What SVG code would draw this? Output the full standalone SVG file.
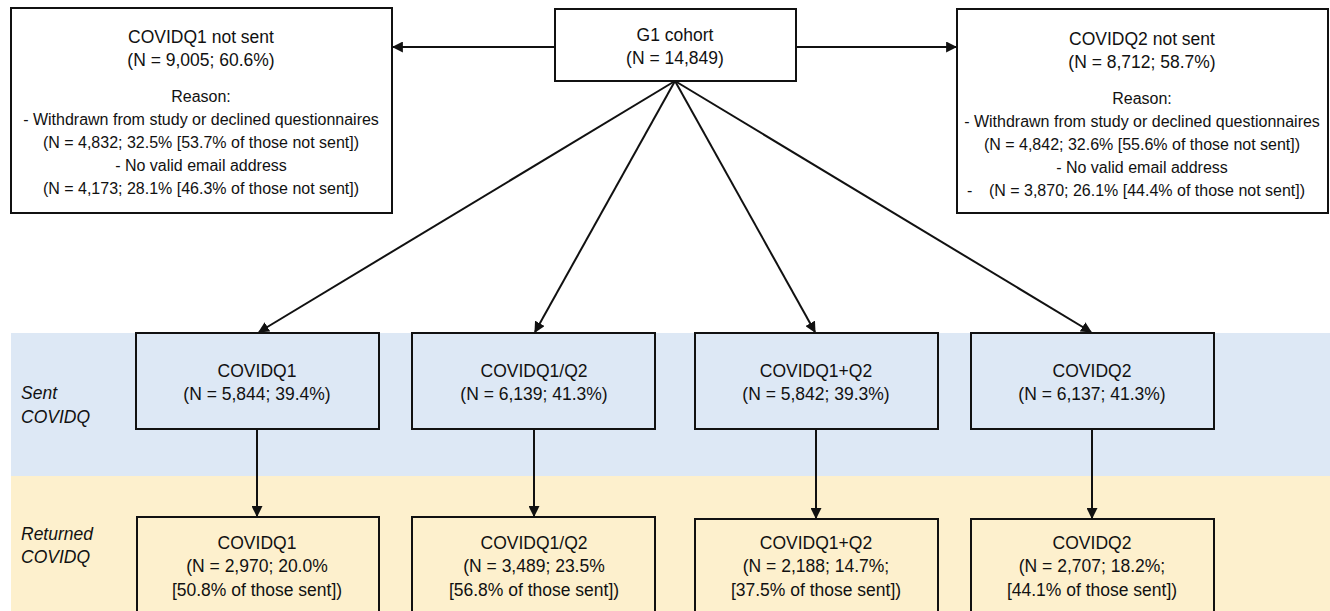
<svg xmlns="http://www.w3.org/2000/svg" width="1330" height="611" viewBox="0 0 1330 611">
<style>
text{font-family:"Liberation Sans",Arial,sans-serif;font-size:17.5px;fill:#111;text-anchor:middle}
.sm{font-size:16px}
.lbl{font-style:italic;text-anchor:start}
.box{stroke:#111;stroke-width:2;fill:#fff}
.sent{fill:#dde8f5}
.ret{fill:#fdf0cd}
.conn{stroke:#111;stroke-width:2;fill:none;marker-end:url(#ah)}
</style>
<defs>
<marker id="ah" viewBox="0 0 10 10" refX="9" refY="5" markerWidth="5.5" markerHeight="5.5" orient="auto" markerUnits="strokeWidth">
<path d="M0,0 L10,5 L0,10 z" fill="#111"/>
</marker>
</defs>
<rect x="11" y="333" width="1319" height="143" fill="#dde8f5"/>
<rect x="11" y="476" width="1319" height="135" fill="#fdf0cd"/>
<text class="lbl" x="21" y="399">Sent</text>
<text class="lbl" x="21" y="423">COVIDQ</text>
<text class="lbl" x="21" y="540">Returned</text>
<text class="lbl" x="21" y="563">COVIDQ</text>
<g id="connectors">
<line class="conn" x1="555" y1="47" x2="393" y2="47"/>
<line class="conn" x1="796" y1="47" x2="956" y2="47"/>
<line class="conn" x1="675" y1="81" x2="259" y2="332"/>
<line class="conn" x1="675" y1="81" x2="535" y2="332"/>
<line class="conn" x1="675" y1="81" x2="815" y2="332"/>
<line class="conn" x1="675" y1="81" x2="1091" y2="332"/>
<line class="conn" x1="257" y1="429" x2="257" y2="516"/>
<line class="conn" x1="534" y1="429" x2="534" y2="516"/>
<line class="conn" x1="816" y1="429" x2="816" y2="518"/>
<line class="conn" x1="1092" y1="429" x2="1092" y2="518"/>
</g>
<g id="notsent1">
<rect class="box" x="11" y="8" width="381" height="205"/>
<text x="201" y="43">COVIDQ1 not sent</text>
<text x="201" y="66">(N = 9,005; 60.6%)</text>
<text class="sm" x="201" y="102">Reason:</text>
<text class="sm" x="201" y="125">- Withdrawn from study or declined questionnaires</text>
<text class="sm" x="201" y="148">(N = 4,832; 32.5% [53.7% of those not sent])</text>
<text class="sm" x="201" y="171">- No valid email address</text>
<text class="sm" x="201" y="194">(N = 4,173; 28.1% [46.3% of those not sent])</text>
</g>
<g id="cohort">
<rect class="box" x="555" y="9" width="241" height="72"/>
<text x="675" y="41">G1 cohort</text>
<text x="675" y="64">(N = 14,849)</text>
</g>
<g id="notsent2">
<rect class="box" x="957" y="9" width="371" height="204"/>
<text x="1142" y="45">COVIDQ2 not sent</text>
<text x="1142" y="68">(N = 8,712; 58.7%)</text>
<text class="sm" x="1142" y="104">Reason:</text>
<text class="sm" x="1142" y="127">- Withdrawn from study or declined questionnaires</text>
<text class="sm" x="1142" y="150">(N = 4,842; 32.6% [55.6% of those not sent])</text>
<text class="sm" x="1142" y="173">- No valid email address</text>
<text class="sm" x="1147" y="196"><tspan x="967" style="text-anchor:start">-</tspan><tspan x="1147">(N = 3,870; 26.1% [44.4% of those not sent])</tspan></text>
</g>
<g id="sent1">
<rect class="box sent" x="136" y="333" width="243" height="96"/>
<text x="257" y="377">COVIDQ1</text>
<text x="257" y="400">(N = 5,844; 39.4%)</text>
</g>
<g id="sent2">
<rect class="box sent" x="412" y="333" width="243" height="96"/>
<text x="534" y="377">COVIDQ1/Q2</text>
<text x="534" y="400">(N = 6,139; 41.3%)</text>
</g>
<g id="sent3">
<rect class="box sent" x="695" y="333" width="243" height="96"/>
<text x="816" y="377">COVIDQ1+Q2</text>
<text x="816" y="400">(N = 5,842; 39.3%)</text>
</g>
<g id="sent4">
<rect class="box sent" x="971" y="333" width="243" height="96"/>
<text x="1092" y="377">COVIDQ2</text>
<text x="1092" y="400">(N = 6,137; 41.3%)</text>
</g>
<g id="ret1">
<rect class="box ret" x="137" y="517" width="242" height="100"/>
<text x="257" y="549">COVIDQ1</text>
<text x="257" y="572">(N = 2,970; 20.0%</text>
<text x="257" y="596">[50.8% of those sent])</text>
</g>
<g id="ret2">
<rect class="box ret" x="412" y="517" width="243" height="100"/>
<text x="534" y="549">COVIDQ1/Q2</text>
<text x="534" y="572">(N = 3,489; 23.5%</text>
<text x="534" y="596">[56.8% of those sent])</text>
</g>
<g id="ret3">
<rect class="box ret" x="695" y="519" width="243" height="100"/>
<text x="816" y="549">COVIDQ1+Q2</text>
<text x="816" y="572">(N = 2,188; 14.7%;</text>
<text x="816" y="596">[37.5% of those sent])</text>
</g>
<g id="ret4">
<rect class="box ret" x="971" y="519" width="243" height="100"/>
<text x="1092" y="549">COVIDQ2</text>
<text x="1092" y="572">(N = 2,707; 18.2%;</text>
<text x="1092" y="596">[44.1% of those sent])</text>
</g>
</svg>
